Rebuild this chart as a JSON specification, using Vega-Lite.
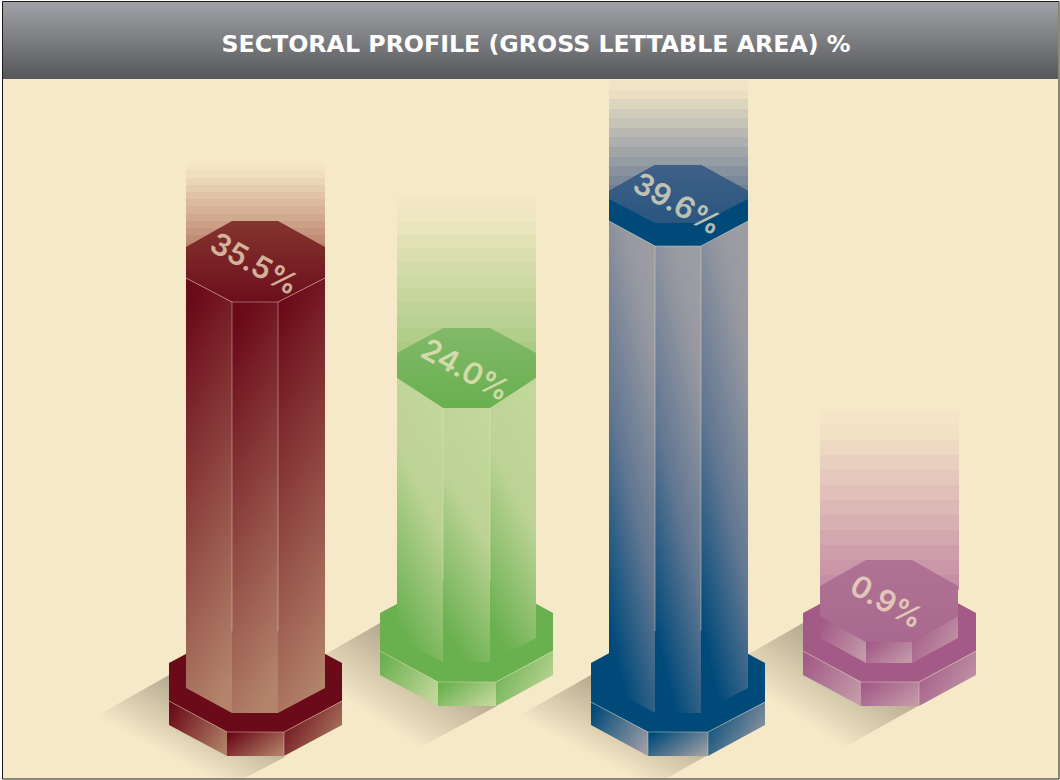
{"$schema":"https://vega.github.io/schema/vega-lite/v6.json","width":1060,"height":780,"padding":0,"autosize":{"type":"fit","contains":"padding"},"background":"#ffffff","config":{"view":{"stroke":null}},
"datasets":{
"shapes":[
{"piece":"frame-title","paint":"title","x":3,"y":2,"y2":79},{"piece":"frame-title","paint":"title","x":1058,"y":2,"y2":79},
{"piece":"sh1","paint":"shadow","x":95,"y":717,"y2":717},{"piece":"sh1","paint":"shadow","x":169,"y":675,"y2":759},{"piece":"sh1","paint":"shadow","x":205,"y":700,"y2":778},{"piece":"sh1","paint":"shadow","x":245,"y":729,"y2":778},{"piece":"sh1","paint":"shadow","x":285,"y":757,"y2":757},
{"piece":"sh2","paint":"shadow","x":305,"y":666,"y2":666},{"piece":"sh2","paint":"shadow","x":380,"y":623,"y2":723},{"piece":"sh2","paint":"shadow","x":415,"y":648,"y2":750},{"piece":"sh2","paint":"shadow","x":497,"y":706,"y2":706},
{"piece":"sh3","paint":"shadow","x":517,"y":717,"y2":717},{"piece":"sh3","paint":"shadow","x":591,"y":675,"y2":759},{"piece":"sh3","paint":"shadow","x":630,"y":700,"y2":778},{"piece":"sh3","paint":"shadow","x":667,"y":729,"y2":778},{"piece":"sh3","paint":"shadow","x":708,"y":755,"y2":755},
{"piece":"sh4","paint":"shadow","x":728,"y":666,"y2":666},{"piece":"sh4","paint":"shadow","x":803,"y":623,"y2":723},{"piece":"sh4","paint":"shadow","x":843,"y":648,"y2":748},{"piece":"sh4","paint":"shadow","x":918,"y":706,"y2":706},

{"piece":"r-plate","paint":"red solid","x":169,"y":663,"y2":701},{"piece":"r-plate","paint":"red solid","x":227,"y":632,"y2":732},{"piece":"r-plate","paint":"red solid","x":284,"y":632,"y2":732},{"piece":"r-plate","paint":"red solid","x":342,"y":663,"y2":701},
{"piece":"r-sl","paint":"red side","x":169,"y":701,"y2":725},{"piece":"r-sl","paint":"red side","x":227,"y":732,"y2":756},
{"piece":"r-sm","paint":"red side","x":227,"y":732,"y2":756},{"piece":"r-sm","paint":"red side","x":284,"y":732,"y2":756},
{"piece":"r-sr","paint":"red side","x":284,"y":732,"y2":756},{"piece":"r-sr","paint":"red side","x":342,"y":701,"y2":725},
{"piece":"r-ghost","paint":"red ghost","x":186,"y":163,"y2":250},{"piece":"r-ghost","paint":"red ghost","x":325,"y":163,"y2":250},
{"piece":"r-cl","paint":"red column","x":186,"y":278,"y2":688},{"piece":"r-cl","paint":"red column","x":232,"y":302,"y2":713},
{"piece":"r-cm","paint":"red column","x":232,"y":302,"y2":713},{"piece":"r-cm","paint":"red column","x":278,"y":302,"y2":713},
{"piece":"r-cr","paint":"red column","x":278,"y":302,"y2":713},{"piece":"r-cr","paint":"red column","x":325,"y":278,"y2":688},
{"piece":"r-top","paint":"red top","x":186,"y":247,"y2":278},{"piece":"r-top","paint":"red top","x":232,"y":221,"y2":302},{"piece":"r-top","paint":"red top","x":278,"y":221,"y2":302},{"piece":"r-top","paint":"red top","x":325,"y":247,"y2":278},

{"piece":"g-plate","paint":"green solid","x":380,"y":613,"y2":651},{"piece":"g-plate","paint":"green solid","x":438,"y":582,"y2":682},{"piece":"g-plate","paint":"green solid","x":496,"y":582,"y2":682},{"piece":"g-plate","paint":"green solid","x":553,"y":613,"y2":651},
{"piece":"g-sl","paint":"green side","x":380,"y":651,"y2":675},{"piece":"g-sl","paint":"green side","x":438,"y":682,"y2":706},
{"piece":"g-sm","paint":"green side","x":438,"y":682,"y2":706},{"piece":"g-sm","paint":"green side","x":496,"y":682,"y2":706},
{"piece":"g-sr","paint":"green side","x":496,"y":682,"y2":706},{"piece":"g-sr","paint":"green side","x":553,"y":651,"y2":675},
{"piece":"g-ghost","paint":"green ghost","x":397,"y":195,"y2":355},{"piece":"g-ghost","paint":"green ghost","x":536,"y":195,"y2":355},
{"piece":"g-cl","paint":"green column","x":397,"y":378,"y2":638},{"piece":"g-cl","paint":"green column","x":443,"y":408,"y2":662},
{"piece":"g-cm","paint":"green column","x":443,"y":408,"y2":662},{"piece":"g-cm","paint":"green column","x":490,"y":408,"y2":662},
{"piece":"g-cr","paint":"green column","x":490,"y":408,"y2":662},{"piece":"g-cr","paint":"green column","x":536,"y":378,"y2":638},
{"piece":"g-top","paint":"green top","x":397,"y":353,"y2":378},{"piece":"g-top","paint":"green top","x":443,"y":328,"y2":408},{"piece":"g-top","paint":"green top","x":490,"y":328,"y2":408},{"piece":"g-top","paint":"green top","x":536,"y":353,"y2":378},

{"piece":"b-plate","paint":"blue solid","x":591,"y":663,"y2":702},{"piece":"b-plate","paint":"blue solid","x":648,"y":632,"y2":732},{"piece":"b-plate","paint":"blue solid","x":708,"y":632,"y2":732},{"piece":"b-plate","paint":"blue solid","x":765,"y":663,"y2":702},
{"piece":"b-sl","paint":"blue side","x":591,"y":702,"y2":725},{"piece":"b-sl","paint":"blue side","x":648,"y":732,"y2":756},
{"piece":"b-sm","paint":"blue side","x":648,"y":732,"y2":756},{"piece":"b-sm","paint":"blue side","x":708,"y":732,"y2":756},
{"piece":"b-sr","paint":"blue side","x":708,"y":732,"y2":756},{"piece":"b-sr","paint":"blue side","x":765,"y":702,"y2":725},
{"piece":"b-ghost","paint":"blue ghost","x":609,"y":80,"y2":195},{"piece":"b-ghost","paint":"blue ghost","x":748,"y":80,"y2":195},
{"piece":"b-cl","paint":"blue column","x":609,"y":221,"y2":688},{"piece":"b-cl","paint":"blue column","x":655,"y":246,"y2":713},
{"piece":"b-cm","paint":"blue column","x":655,"y":246,"y2":713},{"piece":"b-cm","paint":"blue column","x":701,"y":246,"y2":713},
{"piece":"b-cr","paint":"blue column","x":701,"y":246,"y2":713},{"piece":"b-cr","paint":"blue column","x":748,"y":221,"y2":688},
{"piece":"b-top","paint":"blue cap","x":609,"y":191,"y2":221},{"piece":"b-top","paint":"blue cap","x":655,"y":165,"y2":246},{"piece":"b-top","paint":"blue cap","x":701,"y":165,"y2":246},{"piece":"b-top","paint":"blue cap","x":748,"y":191,"y2":221},
{"piece":"b-glaze","paint":"blue top","x":609,"y":191,"y2":199},{"piece":"b-glaze","paint":"blue top","x":655,"y":165,"y2":223},{"piece":"b-glaze","paint":"blue top","x":701,"y":165,"y2":223},{"piece":"b-glaze","paint":"blue top","x":748,"y":191,"y2":199},

{"piece":"p-plate","paint":"purple solid","x":803,"y":613,"y2":651},{"piece":"p-plate","paint":"purple solid","x":861,"y":582,"y2":682},{"piece":"p-plate","paint":"purple solid","x":919,"y":582,"y2":682},{"piece":"p-plate","paint":"purple solid","x":976,"y":613,"y2":651},
{"piece":"p-sl","paint":"purple side","x":803,"y":651,"y2":675},{"piece":"p-sl","paint":"purple side","x":861,"y":682,"y2":706},
{"piece":"p-sm","paint":"purple side","x":861,"y":682,"y2":706},{"piece":"p-sm","paint":"purple side","x":919,"y":682,"y2":706},
{"piece":"p-sr","paint":"purple side","x":919,"y":682,"y2":706},{"piece":"p-sr","paint":"purple side","x":976,"y":651,"y2":675},
{"piece":"p-ghost","paint":"purple ghost","x":820,"y":410,"y2":590},{"piece":"p-ghost","paint":"purple ghost","x":959,"y":410,"y2":590},
{"piece":"p-cl","paint":"purple side","x":820,"y":616,"y2":638},{"piece":"p-cl","paint":"purple side","x":866,"y":642,"y2":663},
{"piece":"p-cm","paint":"purple side","x":866,"y":642,"y2":663},{"piece":"p-cm","paint":"purple side","x":912,"y":642,"y2":663},
{"piece":"p-cr","paint":"purple side","x":912,"y":642,"y2":663},{"piece":"p-cr","paint":"purple side","x":958,"y":616,"y2":638},
{"piece":"p-top","paint":"purple top","x":820,"y":586,"y2":616},{"piece":"p-top","paint":"purple top","x":866,"y":560,"y2":642},{"piece":"p-top","paint":"purple top","x":912,"y":560,"y2":642},{"piece":"p-top","paint":"purple top","x":958,"y":586,"y2":616}
],
"edges":[
{"edge":"r1","x":232,"y":302},{"edge":"r1","x":232,"y":631},{"edge":"r2","x":278,"y":302},{"edge":"r2","x":278,"y":631},
{"edge":"r3","x":186,"y":278},{"edge":"r3","x":232,"y":302},{"edge":"r3","x":278,"y":302},{"edge":"r3","x":325,"y":278},
{"edge":"r4","x":169,"y":701},{"edge":"r4","x":227,"y":732},{"edge":"r4","x":284,"y":732},{"edge":"r4","x":342,"y":701},{"edge":"r5","x":284,"y":732},{"edge":"r5","x":284,"y":756},
{"edge":"g1","x":443,"y":408},{"edge":"g1","x":443,"y":580},{"edge":"g2","x":490,"y":408},{"edge":"g2","x":490,"y":580},
{"edge":"g4","x":380,"y":651},{"edge":"g4","x":438,"y":682},{"edge":"g4","x":496,"y":682},{"edge":"g4","x":553,"y":651},
{"edge":"b1","x":655,"y":246},{"edge":"b1","x":655,"y":631},{"edge":"b2","x":701,"y":246},{"edge":"b2","x":701,"y":631},
{"edge":"b3","x":609,"y":221},{"edge":"b3","x":655,"y":246},{"edge":"b3","x":701,"y":246},{"edge":"b3","x":748,"y":221},
{"edge":"b4","x":591,"y":702},{"edge":"b4","x":648,"y":732},{"edge":"b4","x":708,"y":732},{"edge":"b4","x":765,"y":702},{"edge":"b5","x":708,"y":732},{"edge":"b5","x":708,"y":756},{"edge":"b6","x":648,"y":732},{"edge":"b6","x":648,"y":756},
{"edge":"p4","x":803,"y":651},{"edge":"p4","x":861,"y":682},{"edge":"p4","x":919,"y":682},{"edge":"p4","x":976,"y":651},{"edge":"p5","x":919,"y":682},{"edge":"p5","x":919,"y":706}
]
},
"encoding":{"x":{"field":"x","type":"quantitative","scale":{"domain":[0,1060],"nice":false,"zero":false},"axis":null},"y":{"field":"y","type":"quantitative","scale":{"domain":[780,0],"nice":false,"zero":false},"axis":null}},
"layer":[
{"data":{"values":[{"x":2.5,"x2":1059,"y":1.5,"y2":779}]},"mark":{"type":"rect","fill":"#f6e9c8","stroke":"#1a1a1a","strokeWidth":1},"encoding":{"x2":{"field":"x2"},"y2":{"field":"y2"}}},

{"data":{"name":"shapes"},"transform":[{"filter":{"field":"paint","equal":"title"}}],"mark":{"type":"area","opacity":1,"color":{"gradient":"linear","x1":0,"y1":0,"x2":0,"y2":1,"stops":[{"offset":0,"color":"#a1a2a7"},{"offset":1,"color":"#56575a"}]}},"encoding":{"y2":{"field":"y2"},"detail":{"field":"piece"}}},
{"data":{"name":"shapes"},"transform":[{"filter":{"field":"paint","equal":"shadow"}}],"mark":{"type":"area","opacity":1,"color":{"gradient":"linear","x1":0.4,"y1":0,"x2":0,"y2":0.4,"stops":[{"offset":0,"color":"#b3a78e"},{"offset":1,"color":"#f6e9c8"}]}},"encoding":{"y2":{"field":"y2"},"detail":{"field":"piece"}}},

{"data":{"name":"shapes"},"transform":[{"filter":{"field":"paint","equal":"red solid"}}],"mark":{"type":"area","opacity":1,"color":"#6b0a19"},"encoding":{"y2":{"field":"y2"},"detail":{"field":"piece"}}},
{"data":{"name":"shapes"},"transform":[{"filter":{"field":"paint","equal":"red side"}}],"mark":{"type":"area","opacity":1,"color":{"gradient":"linear","x1":0,"y1":0.2,"x2":1,"y2":0.8,"stops":[{"offset":0,"color":"#6b0a19"},{"offset":1,"color":"#b07f65"}]}},"encoding":{"y2":{"field":"y2"},"detail":{"field":"piece"}}},
{"data":{"name":"shapes"},"transform":[{"filter":{"field":"paint","equal":"red ghost"}}],"mark":{"type":"area","opacity":1,"color":{"gradient":"linear","x1":0,"y1":0,"x2":0,"y2":1,"stops":[{"offset":0,"color":"#f4e6c5"},{"offset":0.0833,"color":"#f4e6c5"},{"offset":0.0833,"color":"#f1e0c0"},{"offset":0.1667,"color":"#f1e0c0"},{"offset":0.1667,"color":"#ebd7b7"},{"offset":0.25,"color":"#ebd7b7"},{"offset":0.25,"color":"#e6cdaf"},{"offset":0.3333,"color":"#e6cdaf"},{"offset":0.3333,"color":"#e1c4a7"},{"offset":0.4167,"color":"#e1c4a7"},{"offset":0.4167,"color":"#dbbb9f"},{"offset":0.5,"color":"#dbbb9f"},{"offset":0.5,"color":"#d6b296"},{"offset":0.5833,"color":"#d6b296"},{"offset":0.5833,"color":"#d0a98e"},{"offset":0.6667,"color":"#d0a98e"},{"offset":0.6667,"color":"#cba086"},{"offset":0.75,"color":"#cba086"},{"offset":0.75,"color":"#c6967e"},{"offset":0.8333,"color":"#c6967e"},{"offset":0.8333,"color":"#c08d75"},{"offset":0.9167,"color":"#c08d75"},{"offset":0.9167,"color":"#bb846d"},{"offset":1,"color":"#bb846d"}]}},"encoding":{"y2":{"field":"y2"},"detail":{"field":"piece"}}},
{"data":{"name":"shapes"},"transform":[{"filter":{"field":"paint","equal":"red column"}}],"mark":{"type":"area","opacity":1,"color":{"gradient":"linear","x1":0.4,"y1":0,"x2":0.6,"y2":1,"stops":[{"offset":0,"color":"#6b0a19"},{"offset":1,"color":"#b3836a"}]}},"encoding":{"y2":{"field":"y2"},"detail":{"field":"piece"}}},
{"data":{"name":"shapes"},"transform":[{"filter":{"field":"paint","equal":"red top"}}],"mark":{"type":"area","opacity":1,"color":{"gradient":"linear","x1":0,"y1":0,"x2":0,"y2":1,"stops":[{"offset":0,"color":"#84352f"},{"offset":1,"color":"#6d0e1c"}]}},"encoding":{"y2":{"field":"y2"},"detail":{"field":"piece"}}},

{"data":{"name":"shapes"},"transform":[{"filter":{"field":"paint","equal":"green solid"}}],"mark":{"type":"area","opacity":1,"color":"#69b04f"},"encoding":{"y2":{"field":"y2"},"detail":{"field":"piece"}}},
{"data":{"name":"shapes"},"transform":[{"filter":{"field":"paint","equal":"green side"}}],"mark":{"type":"area","opacity":1,"color":{"gradient":"linear","x1":0,"y1":0.2,"x2":1,"y2":0.8,"stops":[{"offset":0,"color":"#69b04f"},{"offset":1,"color":"#c2d79a"}]}},"encoding":{"y2":{"field":"y2"},"detail":{"field":"piece"}}},
{"data":{"name":"shapes"},"transform":[{"filter":{"field":"paint","equal":"green ghost"}}],"mark":{"type":"area","opacity":1,"color":{"gradient":"linear","x1":0,"y1":0,"x2":0,"y2":1,"stops":[{"offset":0,"color":"#f3e8c5"},{"offset":0.0833,"color":"#f3e8c5"},{"offset":0.0833,"color":"#efe6c2"},{"offset":0.1667,"color":"#efe6c2"},{"offset":0.1667,"color":"#e8e4bc"},{"offset":0.25,"color":"#e8e4bc"},{"offset":0.25,"color":"#e1e1b6"},{"offset":0.3333,"color":"#e1e1b6"},{"offset":0.3333,"color":"#dadeb0"},{"offset":0.4167,"color":"#dadeb0"},{"offset":0.4167,"color":"#d3dbaa"},{"offset":0.5,"color":"#d3dbaa"},{"offset":0.5,"color":"#cdd9a3"},{"offset":0.5833,"color":"#cdd9a3"},{"offset":0.5833,"color":"#c6d69d"},{"offset":0.6667,"color":"#c6d69d"},{"offset":0.6667,"color":"#bfd397"},{"offset":0.75,"color":"#bfd397"},{"offset":0.75,"color":"#b8d091"},{"offset":0.8333,"color":"#b8d091"},{"offset":0.8333,"color":"#b1ce8b"},{"offset":0.9167,"color":"#b1ce8b"},{"offset":0.9167,"color":"#aacb85"},{"offset":1,"color":"#aacb85"}]}},"encoding":{"y2":{"field":"y2"},"detail":{"field":"piece"}}},
{"data":{"name":"shapes"},"transform":[{"filter":{"field":"paint","equal":"green column"}}],"mark":{"type":"area","opacity":1,"color":{"gradient":"linear","x1":0.65,"y1":0,"x2":0.35,"y2":1,"stops":[{"offset":0,"color":"#c2d79a"},{"offset":0.4,"color":"#bcd395"},{"offset":0.97,"color":"#69b04f"},{"offset":1,"color":"#69b04f"}]}},"encoding":{"y2":{"field":"y2"},"detail":{"field":"piece"}}},
{"data":{"name":"shapes"},"transform":[{"filter":{"field":"paint","equal":"green top"}}],"mark":{"type":"area","opacity":1,"color":{"gradient":"linear","x1":0,"y1":0,"x2":0,"y2":1,"stops":[{"offset":0,"color":"#82b96a"},{"offset":1,"color":"#69b04f"}]}},"encoding":{"y2":{"field":"y2"},"detail":{"field":"piece"}}},

{"data":{"name":"shapes"},"transform":[{"filter":{"field":"paint","equal":"blue solid"}}],"mark":{"type":"area","opacity":1,"color":"#004a7a"},"encoding":{"y2":{"field":"y2"},"detail":{"field":"piece"}}},
{"data":{"name":"shapes"},"transform":[{"filter":{"field":"paint","equal":"blue side"}}],"mark":{"type":"area","opacity":1,"color":{"gradient":"linear","x1":0,"y1":0.2,"x2":1,"y2":0.8,"stops":[{"offset":0,"color":"#004a7a"},{"offset":1,"color":"#9c9ca3"}]}},"encoding":{"y2":{"field":"y2"},"detail":{"field":"piece"}}},
{"data":{"name":"shapes"},"transform":[{"filter":{"field":"paint","equal":"blue ghost"}}],"mark":{"type":"area","opacity":1,"color":{"gradient":"linear","x1":0,"y1":0,"x2":0,"y2":1,"stops":[{"offset":0,"color":"#f1e5c6"},{"offset":0.0833,"color":"#f1e5c6"},{"offset":0.0833,"color":"#eadfc3"},{"offset":0.1667,"color":"#eadfc3"},{"offset":0.1667,"color":"#ddd6bf"},{"offset":0.25,"color":"#ddd6bf"},{"offset":0.25,"color":"#d1ccba"},{"offset":0.3333,"color":"#d1ccba"},{"offset":0.3333,"color":"#c5c3b6"},{"offset":0.4167,"color":"#c5c3b6"},{"offset":0.4167,"color":"#b9b9b1"},{"offset":0.5,"color":"#b9b9b1"},{"offset":0.5,"color":"#acafad"},{"offset":0.5833,"color":"#acafad"},{"offset":0.5833,"color":"#a0a6a8"},{"offset":0.6667,"color":"#a0a6a8"},{"offset":0.6667,"color":"#949ca4"},{"offset":0.75,"color":"#949ca4"},{"offset":0.75,"color":"#88929f"},{"offset":0.8333,"color":"#88929f"},{"offset":0.8333,"color":"#7b899b"},{"offset":0.9167,"color":"#7b899b"},{"offset":0.9167,"color":"#6f7f96"},{"offset":1,"color":"#6f7f96"}]}},"encoding":{"y2":{"field":"y2"},"detail":{"field":"piece"}}},
{"data":{"name":"shapes"},"transform":[{"filter":{"field":"paint","equal":"blue column"}}],"mark":{"type":"area","opacity":1,"color":{"gradient":"linear","x1":0.7,"y1":0,"x2":0.3,"y2":1,"stops":[{"offset":0,"color":"#9c9ca3"},{"offset":0.15,"color":"#9698a1"},{"offset":0.55,"color":"#627792"},{"offset":0.95,"color":"#004a7a"},{"offset":1,"color":"#004a7a"}]}},"encoding":{"y2":{"field":"y2"},"detail":{"field":"piece"}}},
{"data":{"name":"shapes"},"transform":[{"filter":{"field":"paint","equal":"blue cap"}}],"mark":{"type":"area","opacity":1,"color":"#004a7a"},"encoding":{"y2":{"field":"y2"},"detail":{"field":"piece"}}},
{"data":{"name":"shapes"},"transform":[{"filter":{"field":"paint","equal":"blue top"}}],"mark":{"type":"area","opacity":1,"color":{"gradient":"linear","x1":0,"y1":0,"x2":0,"y2":1,"stops":[{"offset":0,"color":"#3f6088"},{"offset":1,"color":"#2a567f"}]}},"encoding":{"y2":{"field":"y2"},"detail":{"field":"piece"}}},

{"data":{"name":"shapes"},"transform":[{"filter":{"field":"paint","equal":"purple solid"}}],"mark":{"type":"area","opacity":1,"color":"#a35a87"},"encoding":{"y2":{"field":"y2"},"detail":{"field":"piece"}}},
{"data":{"name":"shapes"},"transform":[{"filter":{"field":"paint","equal":"purple ghost"}}],"mark":{"type":"area","opacity":1,"color":{"gradient":"linear","x1":0,"y1":0,"x2":0,"y2":1,"stops":[{"offset":0,"color":"#f4e5c6"},{"offset":0.0833,"color":"#f4e5c6"},{"offset":0.0833,"color":"#f2e1c5"},{"offset":0.1667,"color":"#f2e1c5"},{"offset":0.1667,"color":"#edd9c2"},{"offset":0.25,"color":"#edd9c2"},{"offset":0.25,"color":"#e9d0be"},{"offset":0.3333,"color":"#e9d0be"},{"offset":0.3333,"color":"#e4c8bb"},{"offset":0.4167,"color":"#e4c8bb"},{"offset":0.4167,"color":"#e0c0b8"},{"offset":0.5,"color":"#e0c0b8"},{"offset":0.5,"color":"#dbb8b5"},{"offset":0.5833,"color":"#dbb8b5"},{"offset":0.5833,"color":"#d7b0b2"},{"offset":0.6667,"color":"#d7b0b2"},{"offset":0.6667,"color":"#d2a7ae"},{"offset":0.75,"color":"#d2a7ae"},{"offset":0.75,"color":"#ce9fab"},{"offset":0.8333,"color":"#ce9fab"},{"offset":0.8333,"color":"#c997a8"},{"offset":0.9167,"color":"#c997a8"},{"offset":0.9167,"color":"#c58fa5"},{"offset":1,"color":"#c58fa5"}]}},"encoding":{"y2":{"field":"y2"},"detail":{"field":"piece"}}},
{"data":{"name":"shapes"},"transform":[{"filter":{"field":"paint","equal":"purple side"}}],"mark":{"type":"area","opacity":1,"color":{"gradient":"linear","x1":0,"y1":0.2,"x2":1,"y2":0.8,"stops":[{"offset":0,"color":"#a35a87"},{"offset":1,"color":"#c399a8"}]}},"encoding":{"y2":{"field":"y2"},"detail":{"field":"piece"}}},
{"data":{"name":"shapes"},"transform":[{"filter":{"field":"paint","equal":"purple top"}}],"mark":{"type":"area","opacity":1,"color":{"gradient":"linear","x1":0,"y1":0,"x2":0,"y2":1,"stops":[{"offset":0,"color":"#af7293"},{"offset":1,"color":"#a9698f"}]}},"encoding":{"y2":{"field":"y2"},"detail":{"field":"piece"}}},

{"data":{"name":"edges"},"mark":{"type":"line","stroke":"#f6e9c8","strokeWidth":0.8,"opacity":0.5},"encoding":{"detail":{"field":"edge"}}},
{"data":{"values":[{"label":"35.5%","x":254,"y":265},{"label":"24.0%","x":465,"y":371},{"label":"39.6%","x":677,"y":205},{"label":"0.9%","x":886,"y":603}]},"mark":{"type":"text","font":"Inter","fontSize":30,"fontWeight":600,"angle":29,"align":"center","baseline":"middle","fill":"#f6e9c8","opacity":0.72},"encoding":{"text":{"field":"label"}}},
{"data":{"values":[{"label":"SECTORAL PROFILE (GROSS LETTABLE AREA) %","x":536,"y":45}]},"mark":{"type":"text","font":"DejaVu Sans","fontSize":23.7,"fontWeight":700,"align":"center","baseline":"middle","fill":"#ffffff"},"encoding":{"text":{"field":"label"}}}
]}
